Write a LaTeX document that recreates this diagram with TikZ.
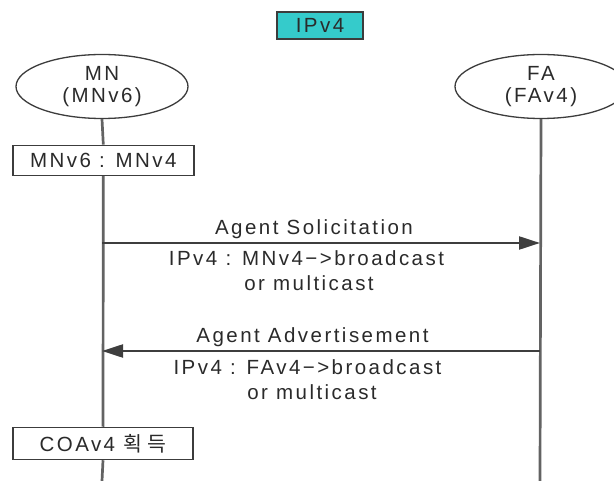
\documentclass[tikz,border=0pt]{standalone}
\usepackage{fontspec}
\setmainfont{Liberation Sans}[LetterSpace=12]
\newfontfamily\krfont{Noto Sans CJK KR}[LetterSpace=26]
\usetikzlibrary{arrows.meta,shapes.geometric}
\definecolor{txtcol}{HTML}{2A2A2A}
\definecolor{linecol}{HTML}{3C3C3C}
\definecolor{lifecol}{HTML}{636363}
\definecolor{arrcol}{HTML}{3E3E3E}
\definecolor{tealfill}{HTML}{35CBCB}
\begin{document}
\begin{tikzpicture}[x=1pt,y=-1pt,
  txt/.style={text=txtcol, font=\fontsize{20.5}{22}\selectfont, inner sep=0pt},
  entity/.style={ellipse, draw=linecol, line width=1.3pt, minimum width=172pt,
    minimum height=64pt, inner sep=0pt, align=center, txt},
  stepbox/.style={rectangle, draw=linecol, line width=1.5pt, fill=white,
    minimum width=181pt, minimum height=30pt, txt},
  lifeline/.style={draw=lifecol, line width=2.7pt},
  msg/.style={draw=arrcol, line width=2.2pt, -{Triangle[length=21pt,width=13pt]}},
]
\useasboundingbox (0,0) rectangle (614,481);

% network label
\node[txt, draw=linecol, fill=tealfill, line width=1.3pt,
  minimum width=86pt, minimum height=27pt] (ipv4) at (320,25.5) {IPv4};

% entities
\node[entity] (mn) at (102,86.5) {MN\\(MNv6)};
\node[entity] (fa) at (541,86.5) {FA\\(FAv4)};

% local steps on the MN side
\node[stepbox] (st1) at (103.3,160.4) {MNv6 : MNv4};
\node[stepbox, minimum width=180pt, minimum height=32pt] (st2) at (103,443.5)
  {COAv4 {\krfont 획득}};

% lifelines
\coordinate (mnend) at (102,481);
\coordinate (faend) at (540,481);
\draw[lifeline] (mn.south) -- (st1.north);
\draw[lifeline] (st1.south) -- (st2.north);
\draw[lifeline] (st2.south) -- (mnend);
\draw[lifeline] (fa.south) -- (faend);

% messages
\coordinate (m1) at (102,243);
\coordinate (f1) at (540,243);
\coordinate (f2) at (540,351);
\coordinate (m2) at (102,351);
\draw[msg] (m1) -- (f1);
\draw[msg] (f2) -- (m2);

\node[txt, anchor=base] (l1) at (314,234.5) {Agent Solicitation};
\node[txt, anchor=base] (l1a) at (306.5,265.5) {IPv4 : MNv4−>broadcast};
\node[txt, anchor=base] (l1b) at (309,290.5) {or multicast};

\node[txt, anchor=base] (l2) at (312.5,343) {Agent Advertisement};
\node[txt, anchor=base] (l2a) at (307.5,375) {IPv4 : FAv4−>broadcast};
\node[txt, anchor=base] (l2b) at (312,400) {or multicast};
\end{tikzpicture}
\end{document}
